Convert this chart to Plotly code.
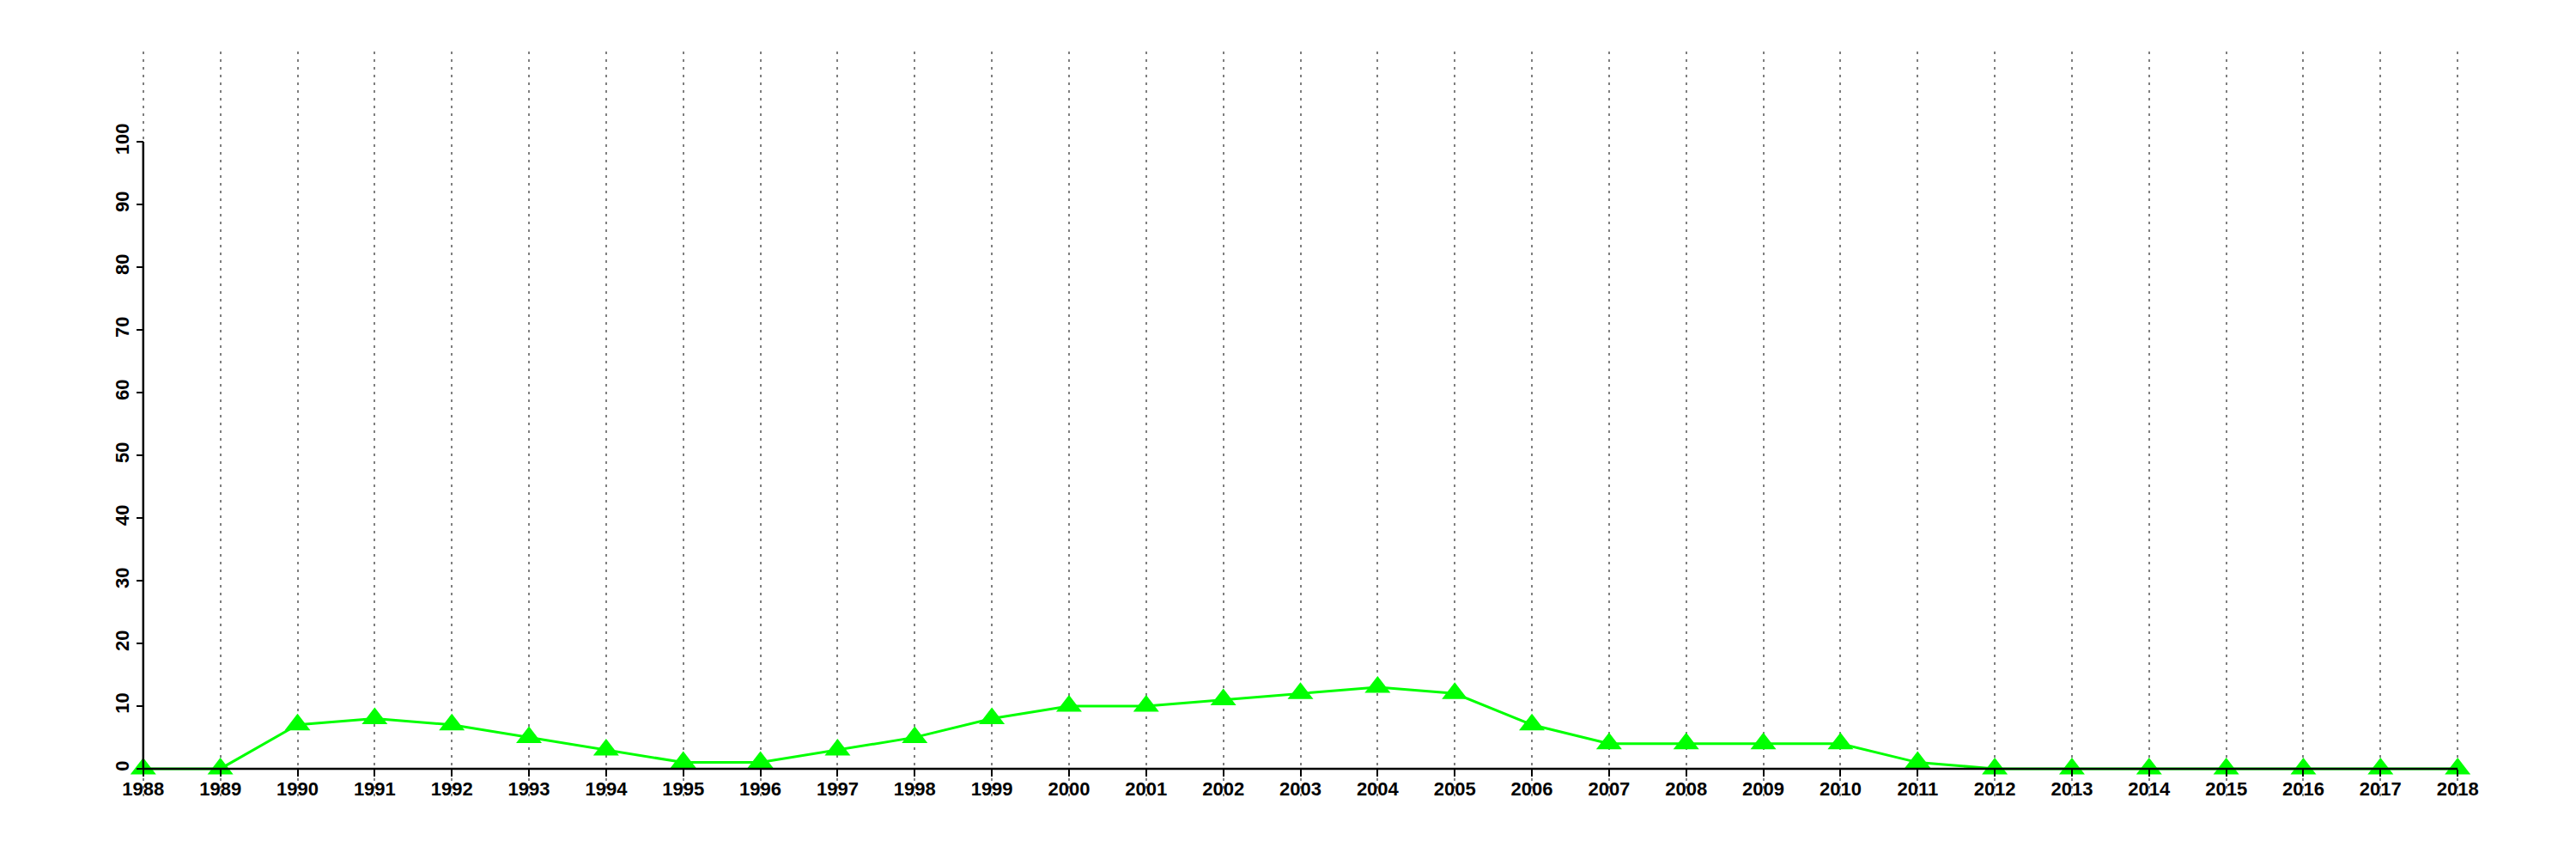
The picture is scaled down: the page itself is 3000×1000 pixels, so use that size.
import plotly.graph_objects as go

years = list(range(1988, 2019))
values = [0, 0, 7, 8, 7, 5, 3, 1, 1, 3, 5, 8, 10, 10, 11, 12, 13, 12, 7, 4, 4, 4, 4, 1, 0, 0, 0, 0, 0, 0, 0]
y_ticks = list(range(0, 101, 10))

x_min, x_max = years[0], years[-1]
x_pad = (x_max - x_min) * 0.04
x_range = [x_min - x_pad, x_max + x_pad]
y_lo, y_hi = 0, 110
y_pad = (y_hi - y_lo) * 0.04
y_range = [y_lo - y_pad, y_hi + y_pad]

tick_font = dict(family="Liberation Sans, Arial, sans-serif", size=22, color="black", weight="bold")

fig = go.Figure()
fig.add_trace(go.Scatter(
    x=years, y=values, mode="lines+markers",
    line=dict(color="#00FF00", width=3),
    marker=dict(symbol="triangle-up", size=26, color="#00FF00", line=dict(width=0)),
    showlegend=False, cliponaxis=False,
))

# axis lines as R draws them (from first to last tick)
fig.add_shape(type="line", x0=x_min, x1=x_max, y0=y_ticks[0], y1=y_ticks[0],
              line=dict(color="black", width=2.5), layer="above")
fig.add_shape(type="line", x0=x_min, x1=x_min, y0=y_ticks[0], y1=y_ticks[-1],
              line=dict(color="black", width=2.5), layer="above")

fig.update_layout(
    width=3000, height=1000,
    margin=dict(l=51, r=38, t=52, b=81, autoexpand=False),
    paper_bgcolor="white", plot_bgcolor="white",
    xaxis=dict(
        range=x_range, tickvals=years, ticktext=[str(y) for y in years],
        showgrid=True, gridcolor="#7f7f7f", gridwidth=2, griddash="3px,6px",
        zeroline=False, showline=False, automargin=False,
        ticks="outside", ticklen=8, tickwidth=2, tickcolor="black",
        tickfont=tick_font, tickangle=0, ticklabelstandoff=-4,
        anchor="free", position=(0 - y_range[0]) / (y_range[1] - y_range[0]),
    ),
    yaxis=dict(
        range=y_range, tickvals=y_ticks, ticktext=[str(v) for v in y_ticks],
        showgrid=False, zeroline=False, showline=False, automargin=False,
        ticks="outside", ticklen=8, tickwidth=2, tickcolor="black",
        tickfont=tick_font, tickangle=-90,
        anchor="free", position=(x_min - x_range[0]) / (x_range[1] - x_range[0]),
    ),
)

fig.write_html("out.html")
